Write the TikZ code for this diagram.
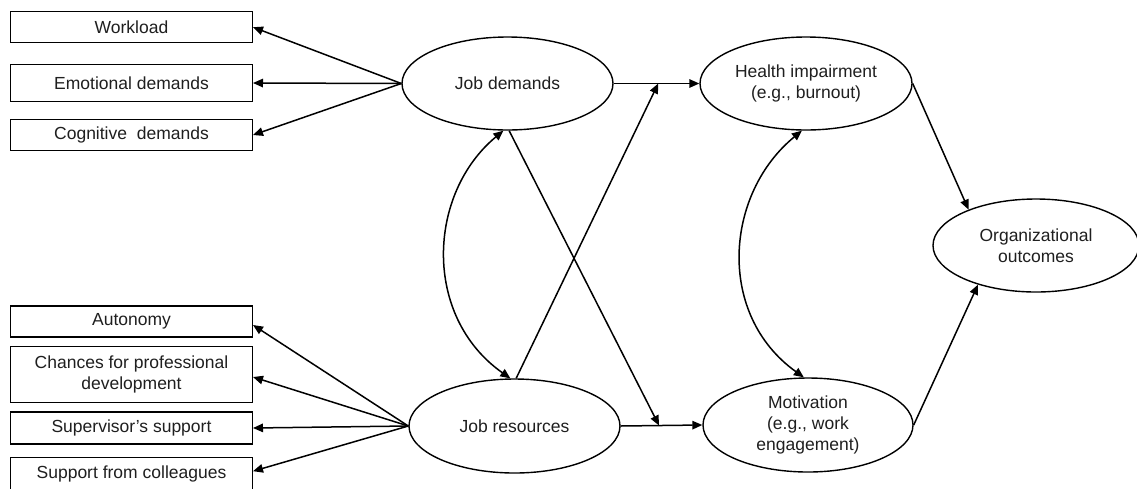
\documentclass[tikz,border=0pt]{standalone}
\usepackage{fontspec}
\setmainfont{Liberation Sans}
\usetikzlibrary{shapes.geometric,arrows.meta,calc}
\tikzset{
  lbl/.style={font=\fontsize{17.5}{21}\selectfont, text=black!88, align=center, inner sep=0pt},
  boxnode/.style={lbl, draw, rectangle, line width=1.4pt, minimum width=241.6pt},
  ellnode/.style={lbl, draw, ellipse, line width=1.4pt},
  arr/.style={line width=1.5pt, -{Triangle[length=10pt,width=8.5pt]}},
  dbl/.style={line width=1.5pt, {Triangle[length=10pt,width=8.5pt]}-{Triangle[length=10pt,width=8.5pt]}}
}
\begin{document}
\begin{tikzpicture}[x=1pt,y=-1pt]
\clip (0,0) rectangle (1137,488);
\fill[white] (0,0) rectangle (1137,488);
% boxes
\node[boxnode, minimum height=31pt] (wl) at (131.5,27.2) {Workload};
\node[boxnode, minimum height=37.4pt] (ed) at (131.5,83) {Emotional demands};
\node[boxnode, minimum height=31.4pt] (cd) at (131.5,135) {Cognitive\ \ demands};
\node[boxnode, minimum height=31pt] (au) at (131.5,321.5) {Autonomy};
\node[boxnode, minimum height=55.6pt] (cp) at (131.5,374.5) {Chances for professional\\development};
\node[boxnode, minimum height=31.7pt] (ss) at (131.5,428) {Supervisor’s support};
\node[boxnode, minimum height=32pt] (sc) at (131.5,473.7) {Support from colleagues};
% ellipses
\node[ellnode, minimum width=211pt, minimum height=93pt] (jd) at (507.5,83.5) {Job demands};
\node[ellnode, minimum width=212pt, minimum height=93pt] (hi) at (806,83.5) {Health impairment\\(e.g., burnout)};
\node[ellnode, minimum width=211pt, minimum height=94pt] (jr) at (514.5,426) {Job resources};
\node[ellnode, minimum width=210pt, minimum height=94pt] (mo) at (808,425) {Motivation\\(e.g., work\\engagement)};
\node[ellnode, minimum width=206pt, minimum height=93pt] (oo) at (1036,245.5) {Organizational\\outcomes};
% demand arrows
\draw[arr] (jd.west) -- (wl.east);
\draw[arr] (jd.west) -- (ed.east);
\draw[arr] (jd.west) -- (cd.east);
% resource arrows
\draw[arr] (jr.west) -- ($(au.east)+(0,3.5)$);
\draw[arr] (jr.west) -- ($(cp.east)+(0,2.5)$);
\draw[arr] (jr.west) -- (ss.east);
\draw[arr] (jr.west) -- ($(sc.east)+(0,-2.5)$);
% main paths
\draw[arr] (jd.east) -- (hi.west);
\draw[arr] (jr.east) -- (mo.west);
\coordinate (m1) at ($(jd.east)!0.52!(hi.west)$);
\coordinate (m2) at ($(jr.east)!0.47!(mo.west)$);
\draw[arr] (jr.88) -- (m1);
\draw[arr] (jd.272) -- (m2);
% correlations
\draw[dbl] (jd.265) .. controls +(-76,63) and +(-88,-62) .. (jr.95);
\draw[dbl] (hi.265) .. controls +(-77,63) and +(-88,-63) .. (mo.95);
% outcomes
\draw[arr] (hi.east) -- (oo.152);
\draw[arr] (mo.east) -- (oo.214);
\end{tikzpicture}
\end{document}
